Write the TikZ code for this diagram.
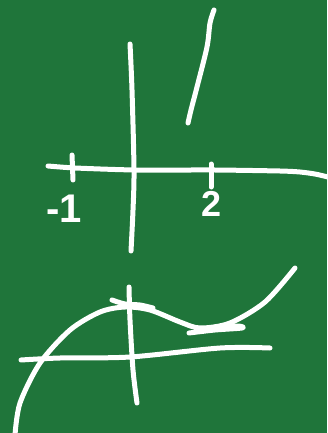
\documentclass[tikz,border=0pt]{standalone}
\usepackage{fontspec}
\setmainfont{Liberation Sans}
\definecolor{board}{HTML}{1F753A}
\tikzset{chalk/.style={draw=white,line width=5pt,line cap=round,line join=round},
  chalktext/.style={text=white,inner sep=0pt,font=\bfseries\fontsize{36}{36}\selectfont}}
\begin{document}
\begin{tikzpicture}[x=1pt,y=-1pt]
\fill[board] (0,0) rectangle (327,433);
\useasboundingbox (0,0) rectangle (327,433);
% top plot
\draw[chalk] plot[smooth] coordinates {(130,44) (132,90) (134,170) (133,210) (131,251)};
\draw[chalk] plot[smooth,tension=0.4] coordinates {(48,166) (75,168) (135,170) (215,170) (280,171) (300,172) (315,174) (328,177)};
\draw[chalk] (72,155) -- (73,180);
\draw[chalk] (211,164) -- (211,187);
\node[chalktext,anchor=base,font=\bfseries\fontsize{40}{40}\selectfont] (lm1) at (64,222) {-1};
\node[chalktext,anchor=base] (l2) at (212,216) {2};
\draw[chalk] plot[smooth] coordinates {(214,10) (210,23) (207,47) (197,87) (191,110) (188,123)};
% bottom plot
\draw[chalk] plot[smooth] coordinates {(129,287) (130,320) (133,370) (137,403)};
\draw[chalk] plot[smooth] coordinates {(21,360) (60,358) (130,357) (220,348) (270,348)};
\draw[chalk] plot[smooth] coordinates {(15,435) (20,403) (40,363) (70,330) (100,312) (125,307) (150,310) (180,322) (200,328) (230,323) (265,302) (295,268)};
\draw[chalk] plot[smooth] coordinates {(112,300) (125,304) (140,305) (153,308)};
\draw[chalk] plot[smooth] coordinates {(189,333) (215,330) (242,328) (238,326) (215,327)};
\end{tikzpicture}
\end{document}
